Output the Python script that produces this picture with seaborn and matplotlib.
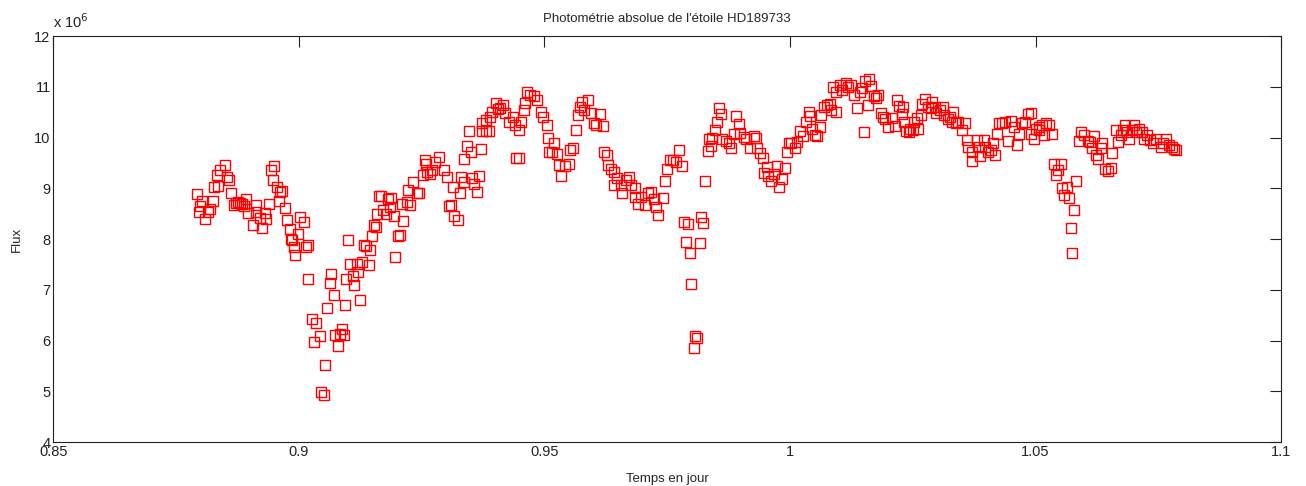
import matplotlib
matplotlib.use("Agg")
import matplotlib.pyplot as plt
import seaborn as sns
import pandas as pd

time_days = [
0.8792,0.8802,0.8799,0.8796,0.8809,0.8816,0.8819,0.8825,0.8828,0.8836,0.8833,0.8840,0.8849,0.8854,0.8857,0.8861,0.8867,
0.8872,0.8876,0.8880,0.8884,0.8888,0.8893,0.8896,0.8906,0.8913,0.8913,0.8921,0.8924,0.8931,0.8934,0.8939,0.8943,0.8950,
0.8947,0.8955,0.8962,0.8966,0.8960,0.8971,0.8976,0.8981,0.8985,0.8987,0.8998,0.9003,0.9010,0.8990,0.8993,0.9014,0.9019,
0.9019,0.9026,0.9031,
0.9034,0.9043,0.9054,0.9046,0.9051,0.9058,0.9071,0.9063,0.9066,0.9079,0.9074,0.9083,0.9088,0.9091,0.9093,0.9096,0.9101,
0.9104,0.9110,0.9113,0.9118,0.9121,0.9125,0.9128,0.9133,0.9137,0.9142,0.9144,0.9149,0.9153,0.9157,0.9160,0.9167,0.9164,
0.9172,0.9178,0.9182,0.9187,0.9185,0.9193,0.9196,0.9201,0.9205,0.9213,0.9210,0.9220,0.9227,0.9223,0.9232,0.9241,0.9244,
0.9253,0.9256,0.9261,
0.9259,0.9268,0.9271,0.9278,0.9285,0.9295,0.9301,0.9306,0.9309,0.9316,0.9324,0.9313,0.9328,0.9331,0.9336,0.9353,0.9356,
0.9363,0.9367,0.9337,0.9343,0.9350,0.9370,0.9346,0.9373,0.9380,0.9387,0.9373,0.9382,0.9390,0.9394,0.9402,0.9405,0.9410,
0.9416,0.9420,0.9427,0.9436,0.9441,0.9449,0.9452,0.9443,0.9448,0.9458,0.9461,0.9465,0.9471,0.9478,0.9485,0.9492,0.9497,
0.9505,0.9507,0.9510,
0.9520,0.9516,0.9526,0.9529,0.9534,0.9541,0.9549,0.9553,0.9558,0.9564,0.9568,0.9572,0.9577,0.9588,0.9581,0.9595,0.9600,
0.9605,0.9614,0.9619,0.9622,0.9627,0.9629,0.9635,0.9642,0.9648,0.9642,0.9656,0.9658,0.9666,0.9673,0.9676,0.9684,0.9685,
0.9690,0.9697,0.9704,0.9711,0.9717,0.9724,0.9728,0.9732,0.9741,0.9745,0.9750,0.9755,
0.9762,0.9768,0.9773,0.9780,0.9785,0.9793,0.9789,0.9796,0.9799,0.9807,0.9811,0.9804,0.9819,0.9823,0.9816,0.9827,0.9832,
0.9839,0.9836,0.9842,0.9847,0.9851,0.9856,0.9859,0.9862,0.9869,0.9876,0.9880,0.9886,0.9891,0.9896,0.9899,0.9906,0.9911,
0.9919,0.9926,0.9930,0.9933,0.9939,0.9945,0.9954,0.9948,0.9955,0.9962,0.9968,0.9973,0.9978,0.9983,0.9989,0.9993,0.9998,
1.0003,1.0010,1.0014,1.0021,1.0027,1.0032,1.0038,1.0041,1.0044,1.0050,1.0054,1.0061,1.0063,1.0070,1.0076,1.0081,1.0083,
1.0093,1.0088,1.0093,1.0101,1.0106,1.0113,1.0118,1.0125,1.0130,1.0137,1.0142,1.0147,1.0152,1.0160,1.0165,1.0158,1.0151,
1.0171,1.0179,1.0176,1.0185,1.0190,1.0194,1.0200,1.0207,1.0213,1.0217,1.0222,1.0227,1.0232,1.0237,1.0244,
1.0231,1.0243,1.0250,1.0253,1.0260,1.0259,1.0266,1.0269,1.0275,1.0280,1.0288,1.0289,1.0295,1.0298,1.0305,1.0312,1.0314,
1.0321,1.0325,1.0332,1.0329,1.0337,1.0343,1.0350,1.0357,1.0360,1.0363,1.0370,1.0371,1.0380,1.0384,1.0387,1.0394,1.0397,
1.0403,1.0409,1.0414,1.0418,1.0421,1.0425,1.0431,1.0438,1.0444,1.0450,1.0455,1.0462,1.0466,1.0472,1.0479,1.0485,1.0490,
1.0490,1.0496,1.0500,1.0507,
1.0506,1.0513,1.0521,1.0528,1.0518,1.0534,1.0538,1.0551,1.0546,1.0542,1.0554,1.0563,1.0558,1.0567,1.0583,1.0579,1.0572,
1.0575,1.0589,1.0592,1.0599,1.0606,1.0610,1.0615,1.0619,1.0623,1.0628,1.0633,1.0636,1.0641,1.0648,1.0653,1.0656,1.0663,
1.0668,1.0673,1.0677,1.0682,1.0687,1.0690,1.0696,1.0700,1.0705,1.0710,1.0716,1.0721,1.0727,1.0732,1.0738,1.0746,1.0755,
1.0759,1.0765,1.0772,1.0777,1.0782,1.0786,
]

flux_1e6 = [
8.88,8.75,8.66,8.54,8.39,8.54,8.59,8.75,9.03,9.05,9.26,9.36,9.47,9.23,9.16,8.91,8.67,
8.71,8.73,8.71,8.69,8.65,8.80,8.51,8.28,8.67,8.54,8.41,8.21,8.52,8.39,8.70,9.36,9.44,
9.16,9.03,8.93,8.95,8.75,8.62,8.37,8.19,8.01,7.98,8.11,8.44,8.34,7.84,7.69,7.85,7.88,
7.21,6.42,5.98,
6.35,6.09,5.51,4.98,4.93,6.65,6.90,7.14,7.32,5.90,6.11,6.13,6.22,6.11,6.70,7.21,7.99,
7.51,7.27,7.09,7.51,7.36,6.80,7.55,7.88,7.86,7.49,7.78,8.06,8.28,8.24,8.49,8.85,8.85,
8.57,8.50,8.80,8.81,8.64,8.45,7.65,8.06,8.08,8.35,8.70,8.74,8.67,8.96,9.12,8.91,8.90,
9.26,9.56,9.33,
9.49,9.29,9.36,9.52,9.62,9.37,9.23,8.65,8.67,8.45,8.37,9.03,8.90,9.22,9.13,9.20,9.08,
8.93,9.24,9.57,9.83,9.72,9.77,10.13,10.13,10.13,10.13,10.29,10.34,10.40,10.51,10.69,10.56,10.58,
10.64,10.48,10.31,10.41,10.25,10.15,10.30,9.59,9.59,10.54,10.69,10.90,10.85,10.82,10.74,10.51,10.40,
10.25,10.00,9.72,
9.89,9.72,9.67,9.46,9.24,9.44,9.48,9.75,9.79,10.15,10.44,10.61,10.71,10.74,10.54,10.48,10.29,
10.25,10.46,10.22,9.72,9.65,9.46,9.39,9.33,9.20,9.06,9.06,8.90,9.16,9.23,9.06,9.00,8.83,
8.70,8.83,8.67,8.90,8.93,8.80,8.64,8.47,8.82,9.15,9.39,9.56,
9.56,9.52,9.75,9.44,8.34,8.29,7.95,7.72,7.11,6.09,6.06,5.85,8.43,8.31,7.93,9.15,9.74,
9.83,9.97,10.00,10.16,10.31,10.58,10.46,9.97,9.94,9.89,9.79,10.07,10.42,10.26,10.09,10.01,9.98,
9.79,10.03,10.00,9.79,9.70,9.60,9.42,9.30,9.24,9.15,9.29,9.44,9.03,9.18,9.41,9.72,9.90,
9.89,9.79,9.92,10.13,10.03,10.31,10.51,10.42,10.18,10.05,10.03,10.21,10.44,10.61,10.64,10.67,10.54,
10.51,10.99,10.90,11.03,10.94,11.08,11.00,11.03,10.84,10.58,10.90,10.97,11.12,11.16,11.01,10.64,10.11,
10.82,10.84,10.79,10.49,10.40,10.36,10.21,10.38,10.22,10.75,10.62,10.46,10.31,10.13,10.18,
10.61,10.11,10.15,10.31,10.18,10.38,10.44,10.67,10.77,10.61,10.58,10.71,10.61,10.48,10.54,10.61,10.44,
10.36,10.41,10.51,10.31,10.29,10.31,10.15,10.28,9.96,9.82,9.72,9.54,9.96,9.82,9.63,9.96,9.81,
9.72,9.75,9.89,9.65,10.08,10.28,10.29,10.31,9.94,10.33,10.21,9.85,10.08,10.28,10.31,10.46,10.49,
10.07,9.98,10.18,10.15,
10.21,10.25,10.28,10.25,10.05,10.08,9.49,9.49,9.36,9.26,9.00,9.02,8.87,8.82,9.15,8.58,8.21,
7.72,9.93,10.11,10.05,9.94,9.92,9.79,10.03,9.65,9.57,9.79,9.89,9.39,9.35,9.41,9.70,10.16,
9.92,10.05,10.15,10.25,10.11,9.98,10.15,10.25,10.11,10.18,10.11,9.98,10.05,9.96,9.90,9.98,9.81,
9.89,9.98,9.85,9.81,9.77,9.75,
]

x_ticks = [0.85, 0.9, 0.95, 1.0, 1.05, 1.1]
x_tick_labels = ["0.85", "0.9", "0.95", "1", "1.05", "1.1"]
y_ticks = [4, 5, 6, 7, 8, 9, 10, 11, 12]

df = pd.DataFrame({"Temps": time_days, "Flux": flux_1e6})

sns.set_style("white")
plt.rcParams["font.family"] = ["Liberation Sans", "DejaVu Sans"]

fig = plt.figure(figsize=(13.06, 4.86), dpi=100)
ax = fig.add_axes([0.0408, 0.0905, 0.9402, 0.835])

sns.lineplot(data=df, x="Temps", y="Flux", estimator=None, sort=False,
             linestyle="", marker="s", markersize=7, color="#ff0000",
             markerfacecolor="none", markeredgecolor="#ff0000",
             markeredgewidth=1.0, ax=ax)

ax.set_xlim(0.85, 1.1)
ax.set_ylim(4, 12)
ax.set_xticks(x_ticks)
ax.set_xticklabels(x_tick_labels)
ax.set_yticks(y_ticks)
ax.tick_params(direction="in", length=8, width=0.8, top=True, right=True,
               labelsize=10.5, colors="#222222", pad=2)
for s in ax.spines.values():
    s.set_color("#222222")
    s.set_linewidth(0.8)

ax.set_xlabel("Temps en jour", fontsize=9.5, labelpad=10)
ax.set_ylabel("Flux", fontsize=9.5, labelpad=8)
ax.set_title("Photométrie absolue de l'étoile HD189733", fontsize=9.5, pad=10)
ax.text(0.0, 1.012, r"x 10$^{6}$", transform=ax.transAxes, fontsize=10.5,
        ha="left", va="bottom", color="#222222")

fig.savefig("out.png", dpi=100)
